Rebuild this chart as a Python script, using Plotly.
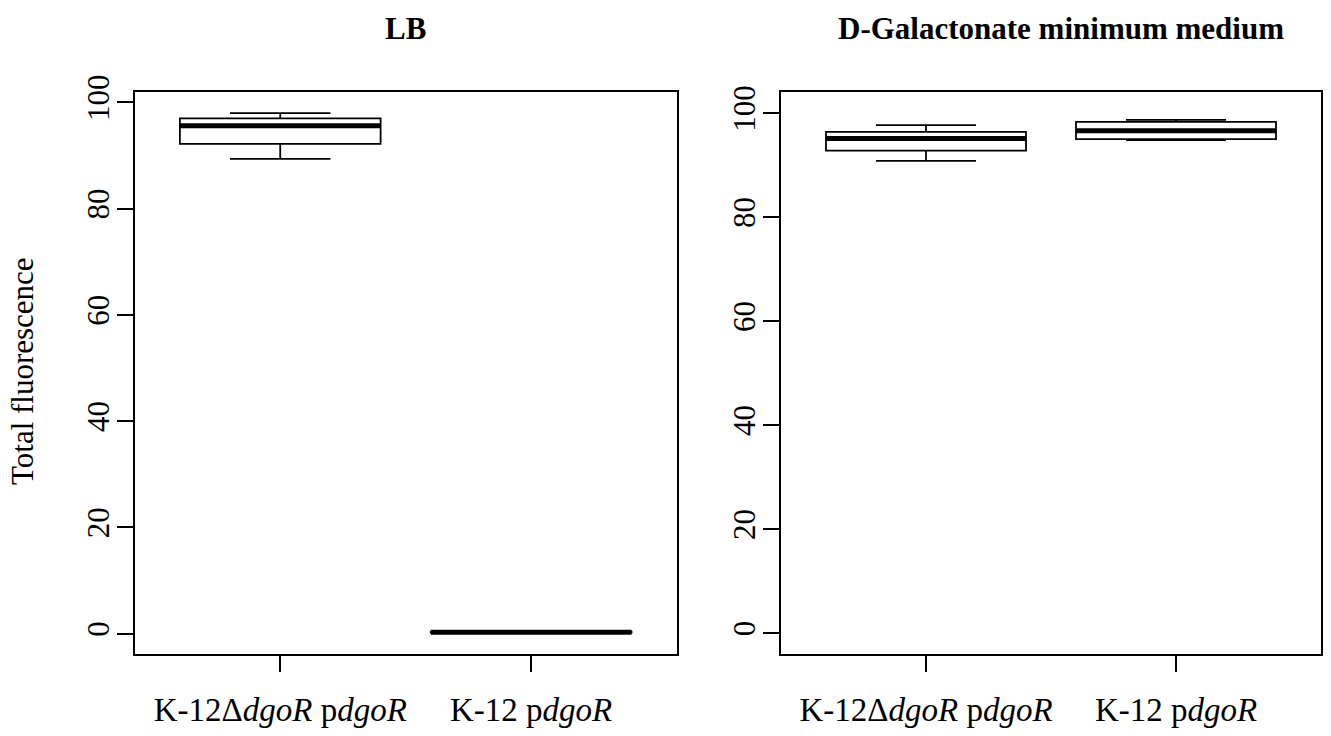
import plotly.graph_objects as go

# ---- data ----
categories = ["K-12Δ<i>dgoR</i> p<i>dgoR</i>", "K-12 p<i>dgoR</i>"]
cat_pos = [1, 2]

panel_titles = ["LB", "D-Galactonate minimum medium"]
y_title = "Total fluorescence"
y_ticks = [0, 20, 40, 60, 80, 100]

# LB panel
lb_lower = [89.4, 0.1]
lb_q1 = [92.2, 0.2]
lb_median = [95.6, 0.3]
lb_q3 = [97.0, 0.4]
lb_upper = [98.0, 0.5]

# D-Galactonate panel
gal_lower = [90.8, 94.8]
gal_q1 = [92.8, 95.0]
gal_median = [95.1, 96.6]
gal_q3 = [96.4, 98.3]
gal_upper = [97.7, 98.7]
gal_ylim = [0, 100]

BOX_W = 0.8
FONT = "Liberation Serif"

fig = go.Figure()

panels = [
    (lb_lower, lb_q1, lb_median, lb_q3, lb_upper, "x", "y"),
    (gal_lower, gal_q1, gal_median, gal_q3, gal_upper, "x2", "y2"),
]

for lo, q1, med, q3, up, xa, ya in panels:
    for i, c in enumerate(cat_pos):
        fig.add_trace(go.Box(
            x=[c], q1=[q1[i]], median=[med[i]], q3=[q3[i]],
            lowerfence=[lo[i]], upperfence=[up[i]],
            width=BOX_W, whiskerwidth=0.5, boxpoints=False,
            fillcolor="white", line=dict(color="black", width=1.8),
            xaxis=xa, yaxis=ya, showlegend=False, hoverinfo="skip",
        ))
        # thick median line (R style)
        fig.add_trace(go.Scatter(
            x=[c - BOX_W / 2, c + BOX_W / 2], y=[med[i], med[i]],
            mode="lines", line=dict(color="black", width=5),
            xaxis=xa, yaxis=ya, showlegend=False, hoverinfo="skip",
        ))


def ext(lo, hi):
    s = hi - lo
    return [lo - 0.04 * s, hi + 0.04 * s]


lb_range = ext(min(lb_lower), max(lb_upper))
gal_range = ext(gal_ylim[0], gal_ylim[1])

W, H = 1331, 736
ydom = [1 - 654 / H, 1 - 92.3 / H]

axis_common = dict(
    showline=True, mirror=True, linecolor="black", linewidth=1.6,
    showgrid=False, zeroline=False, ticks="outside", ticklen=16,
    tickwidth=1.6, tickcolor="black", automargin=False,
)

xfont = dict(size=33, family=FONT)
yfont = dict(size=31, family=FONT)

fig.update_layout(
    width=W, height=H,
    margin=dict(l=0, r=0, t=0, b=0, autoexpand=False),
    paper_bgcolor="white", plot_bgcolor="white",
    font=dict(family=FONT, color="black"),
    xaxis=dict(domain=[134.7 / W, 676.7 / W], range=[0.42, 2.58],
               tickvals=cat_pos, ticktext=categories, ticklabelstandoff=10,
               tickfont=xfont, anchor="y", **axis_common),
    yaxis=dict(domain=ydom, range=lb_range, tickvals=y_ticks,
               tickangle=-90, tickfont=yfont, ticklabelstandoff=-4,
               anchor="x", **axis_common),
    xaxis2=dict(domain=[781 / W, 1321 / W], range=[0.42, 2.58],
                tickvals=cat_pos, ticktext=categories, ticklabelstandoff=10,
                tickfont=xfont, anchor="y2", **axis_common),
    yaxis2=dict(domain=ydom, range=gal_range, tickvals=y_ticks,
                tickangle=-90, tickfont=yfont, ticklabelstandoff=-4,
                anchor="x2", **axis_common),
)

# panel titles
fig.add_annotation(text="<b>" + panel_titles[0] + "</b>", x=405.7 / W, y=1 - 28 / H,
                   xref="paper", yref="paper", showarrow=False,
                   xanchor="center", yanchor="middle",
                   font=dict(size=31, family=FONT))
fig.add_annotation(text="<b>" + panel_titles[1] + "</b>", x=1061 / W, y=1 - 28 / H,
                   xref="paper", yref="paper", showarrow=False,
                   xanchor="center", yanchor="middle",
                   font=dict(size=31, family=FONT))
# y title
fig.add_annotation(text=y_title, x=22 / W, y=1 - 371 / H, xref="paper", yref="paper",
                   showarrow=False, textangle=-90, xanchor="center", yanchor="middle",
                   font=dict(size=31, family=FONT))

fig.write_html("out.html")
